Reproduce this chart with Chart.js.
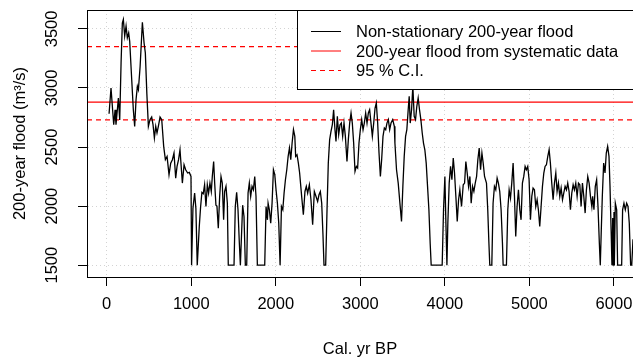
<!DOCTYPE html>
<html>
<head>
<meta charset="utf-8">
<script src="https://cdn.jsdelivr.net/npm/chart.js@4.4.1/dist/chart.umd.min.js"></script>
<style>
  html, body { margin: 0; padding: 0; background: #fff; }
  #wrap { width: 633px; height: 363px; }
</style>
</head>
<body>
<div id="wrap"><canvas id="floodChart" width="633" height="363"></canvas></div>
<script>
// years (cal. yr BP) and 200-year flood estimate (m3/s)
const years = [
  28, 51, 83, 99, 110, 126, 138, 154, 170, 185, 197, 213, 229, 244, 260, 272, 296, 315, 331, 347,
  363, 375, 395, 422, 442, 457, 475, 493, 512, 532, 548, 564, 580, 595, 611, 631, 651, 674, 694, 714,
  737, 757, 777, 796, 816, 832, 850, 867, 895, 915, 934, 958, 977, 997,
  1004, 1020, 1040, 1055, 1071, 1079, 1095, 1111, 1126, 1142, 1158, 1174, 1190, 1205, 1221, 1237,
  1249, 1265, 1277, 1292, 1304, 1320, 1336, 1352, 1367, 1383, 1395, 1411, 1427, 1438, 1506, 1521,
  1537, 1553, 1569, 1581, 1608, 1624, 1640, 1656, 1672, 1687, 1703, 1719, 1735, 1751, 1766, 1782,
  1869, 1885, 1901, 1909, 1924, 1940, 1956, 1972, 1988, 2003, 2019, 2035, 2051, 2067, 2083, 2098,
  2114, 2130, 2146, 2162, 2177, 2193, 2209, 2225,
  2235, 2251, 2267, 2282, 2306, 2326, 2345, 2361, 2377, 2397, 2416, 2436, 2456, 2476, 2495, 2511,
  2527, 2543, 2558, 2570, 2590, 2606, 2621, 2637, 2653, 2669, 2684, 2700, 2712, 2728, 2744, 2760,
  2775, 2791, 2807, 2823, 2842, 2858, 2874, 2890, 2905, 2921, 2937, 2953, 2968, 2984, 3000, 3016,
  3032, 3047, 3063, 3079, 3095, 3110, 3126, 3142, 3158, 3174, 3189, 3205, 3221, 3237, 3252, 3268,
  3284, 3300, 3315, 3331, 3347, 3363, 3383, 3402,
  3409, 3428, 3448, 3468, 3487, 3503, 3519, 3535, 3550, 3566, 3578, 3590, 3606, 3621, 3637, 3653,
  3668, 3684, 3700, 3716, 3732, 3747, 3763, 3779, 3795, 3811, 3826, 3838, 3968, 3984, 4000, 4012,
  4024, 4035, 4051, 4067, 4083, 4099, 4114, 4130, 4146, 4162, 4177, 4197, 4217, 4233, 4248, 4264,
  4280, 4296, 4311, 4327, 4343, 4359, 4375, 4390, 4406, 4422, 4438, 4453, 4469,
  4492, 4507, 4520, 4531, 4555, 4570, 4586, 4602, 4618, 4633, 4649, 4665, 4681, 4689, 4728, 4744,
  4760, 4776, 4791, 4807, 4823, 4838, 4854, 4870, 4886, 4901, 4917, 4933, 4949, 4964, 4980, 4996,
  5012, 5028, 5043, 5059, 5075, 5091, 5106, 5122, 5138, 5154, 5170, 5185, 5201, 5217, 5233, 5248,
  5264, 5280, 5296, 5312, 5327, 5343, 5359, 5375, 5391, 5406, 5422, 5438, 5453, 5469, 5485, 5501,
  5517, 5532, 5548, 5564, 5580, 5596, 5611, 5627, 5643, 5659, 5674, 5690, 5706, 5722, 5738,
  5748, 5763, 5779, 5795, 5811, 5827, 5838, 5850, 5862, 5878, 5894, 5909, 5925, 5941, 5953, 5968,
  5976, 5985, 5992, 6000, 6004, 6016, 6032, 6043, 6091, 6102, 6118, 6134, 6150, 6166, 6181, 6197,
  6210, 6225
];
const flood = [
  2782, 3000, 2689, 2816, 2690, 2816, 2915, 2730, 3212, 3550, 3580, 3440, 3523, 3424, 3466, 3395, 3070, 2816, 2675, 2900,
  3014, 2986, 3180, 3556, 3381, 3297, 2950, 2675, 2732, 2754, 2690, 2576, 2675, 2619, 2675, 2754, 2732, 2506, 2393, 2421,
  2266, 2364, 2393, 2449, 2237, 2336, 2393, 2477, 2195, 2350, 2308, 2280, 2285, 2251,
  1500, 1980, 2110, 1980, 1500, 1500, 1828, 1997, 2116, 2105, 2181, 1997, 2181, 2110, 2195, 2124,
  2251, 2378, 2195, 2008, 2000, 1813, 2082, 2251, 2195, 1884, 2124, 2167, 2025, 1500, 1500, 1997,
  2116, 1969, 1686, 1500, 2008, 1912, 1500, 1500, 2110, 2195, 2082, 2167, 2138, 2251, 2082, 1500,
  1500, 1997, 1884, 2025, 1969, 1856, 2025, 2308, 2266, 2138, 2025, 1856, 1500, 1997, 1969, 2110,
  2223, 2308, 2421, 2492, 2393, 2534, 2647, 2590,
  2421, 2435, 2364, 2280, 2082, 1927, 2124, 2167, 2110, 2181, 2054, 1842, 2124, 2082, 2040, 2096,
  2124, 2025, 1757, 1500, 1500, 1969, 2364, 2563, 2633, 2689, 2816, 2647, 2548, 2760, 2605, 2689,
  2703, 2590, 2703, 2590, 2379, 2563, 2703, 2788, 2703, 2534, 2294, 2336, 2322, 2534, 2647, 2732,
  2647, 2703, 2788, 2703, 2788, 2816, 2703, 2590, 2703, 2830, 2873, 2703, 2449, 2251, 2393, 2590,
  2661, 2647, 2703, 2732, 2647, 2703, 2732, 2675,
  2534, 2308, 2195, 2025, 1870, 2167, 2421, 2590, 2647, 2816, 2929, 2703, 2816, 3014, 2760, 2732,
  2845, 2915, 2816, 2732, 2619, 2534, 2477, 2364, 2167, 1969, 1686, 1500, 1500, 1969, 2251, 1856,
  1500, 1856, 2195, 2336, 2223, 2407, 2280, 2082, 1870, 2054, 2138, 1997, 2181, 2195, 2378, 2280,
  2167, 2251, 2025, 2167, 2124, 2195, 2251, 2393, 2492, 2308, 2449, 2364, 2251,
  2195, 1969, 1700, 1500, 1500, 2025, 2167, 2138, 2237, 2195, 2124, 1969, 1686, 1500, 1500, 1969,
  2138, 2068, 2195, 2364, 2082, 1743, 1997, 2138, 1969, 1884, 2195, 2251, 2336, 2308, 2336, 2223,
  1884, 2082, 2153, 2138, 1997, 2054, 1969, 1828, 1997, 2167, 2280, 2336, 2350, 2421, 2477, 2364,
  2195, 2054, 2195, 2280, 2124, 2195, 2082, 2153, 2054, 2110, 2167, 2138, 2195, 2124, 1969, 2110,
  2181, 2138, 2195, 2082, 2195, 2181, 1997, 2195, 2082, 1941, 2138, 2251, 2195, 2082, 1997,
  2082, 1969, 2167, 2223, 1997, 1686, 1500, 1800, 2082, 2364, 2280, 2449, 2506, 2421, 2167, 1743,
  1500, 1900, 1500, 1950, 1500, 2025, 1969, 1500, 1500, 1969, 2025, 1969, 2025, 1997, 1856, 1500,
  1500, 1720
];
const systematicQ200 = 2880;
const ciBounds = [2730, 3350];
const xTicks = [0, 1000, 2000, 3000, 4000, 5000, 6000];
const yTicks = [1500, 2000, 2500, 3000, 3500];
const xRange = [-233, 6225];
const yRange = [1400, 3660];

const legendItems = [
  { label: 'Non-stationary 200-year flood', color: '#000000', dash: [] },
  { label: '200-year flood from systematic data', color: '#ff0000', dash: [] },
  { label: '95 % C.I.', color: '#ff0000', dash: [5, 4] }
];

const FONT = '"Liberation Sans", Arial, Helvetica, sans-serif';
const FSIZE = 16.5;
Chart.defaults.font.family = FONT;
Chart.defaults.font.size = FSIZE;
Chart.defaults.color = '#000';

function hline(v) {
  return [{ x: xRange[0], y: v }, { x: xRange[1], y: v }];
}

// box around plot region, like R's box()
const boxPlugin = {
  id: 'plotBox',
  afterDatasetsDraw(chart) {
    const a = chart.chartArea, ctx = chart.ctx;
    ctx.save();
    ctx.strokeStyle = '#000';
    ctx.lineWidth = 1;
    ctx.strokeRect(Math.round(a.left) + 0.5, Math.round(a.top) + 0.5, a.right - a.left + 5, a.bottom - a.top);
    ctx.restore();
  }
};

// R style legend in the top right corner
const rLegend = {
  id: 'rLegend',
  afterDraw(chart) {
    const ctx = chart.ctx, a = chart.chartArea;
    const left = 297.5, top = Math.round(a.top) + 0.5, bottom = 89.5;
    ctx.save();
    ctx.fillStyle = '#fff';
    ctx.fillRect(left, top, 400, bottom - top);
    ctx.strokeStyle = '#000';
    ctx.lineWidth = 1;
    ctx.strokeRect(left, top, 400, bottom - top);
    ctx.font = FSIZE + 'px ' + FONT;
    ctx.textBaseline = 'middle';
    ctx.textAlign = 'left';
    legendItems.forEach((it, i) => {
      const y = 31.5 + i * 19.5;
      ctx.strokeStyle = it.color;
      ctx.setLineDash(it.dash);
      ctx.beginPath();
      ctx.moveTo(311, y);
      ctx.lineTo(341, y);
      ctx.stroke();
      ctx.setLineDash([]);
      ctx.fillStyle = '#000';
      ctx.fillText(it.label, 356, y + 1);
    });
    ctx.restore();
  }
};

const plainNum = v => String(v);

new Chart(document.getElementById('floodChart'), {
  type: 'line',
  data: {
    datasets: [
      {
        label: legendItems[0].label,
        data: years.map((yr, i) => ({ x: yr, y: flood[i] })),
        borderColor: '#000',
        borderWidth: 1.3,
        pointRadius: 0,
        tension: 0
      },
      {
        label: legendItems[1].label,
        data: hline(systematicQ200),
        borderColor: '#ff0000',
        borderWidth: 1.3,
        pointRadius: 0
      },
      {
        label: legendItems[2].label,
        data: hline(ciBounds[1]),
        borderColor: '#ff0000',
        borderWidth: 1.3,
        borderDash: [5, 4],
        pointRadius: 0
      },
      {
        label: legendItems[2].label,
        data: hline(ciBounds[0]),
        borderColor: '#ff0000',
        borderWidth: 1.3,
        borderDash: [5, 4],
        pointRadius: 0
      }
    ]
  },
  options: {
    responsive: false,
    animation: false,
    devicePixelRatio: 1,
    layout: { padding: { top: 10, right: 0, bottom: 0, left: 0 } },
    plugins: { legend: { display: false }, tooltip: { enabled: false } },
    scales: {
      x: {
        type: 'linear',
        min: xRange[0],
        max: xRange[1],
        afterBuildTicks: s => { s.ticks = xTicks.map(v => ({ value: v })); },
        afterFit: s => { s.height = 86; s.paddingLeft = 0; s.paddingRight = 0; },
        grid: { color: '#d3d3d3', lineWidth: 1, tickColor: '#000', tickLength: 9, tickWidth: 1 },
        border: { color: '#000', width: 1, dash: [1, 3] },
        ticks: { color: '#000', padding: 9, maxRotation: 0, autoSkip: false, callback: plainNum },
        title: { display: true, text: 'Cal. yr BP', color: '#000', padding: { top: 0, bottom: 4 } }
      },
      y: {
        type: 'linear',
        min: yRange[0],
        max: yRange[1],
        afterBuildTicks: s => { s.ticks = yTicks.map(v => ({ value: v })); },
        afterFit: s => { s.width = 87; s.paddingTop = 0; s.paddingBottom = 0; },
        grid: { color: '#d3d3d3', lineWidth: 1, tickColor: '#000', tickLength: 9, tickWidth: 1 },
        border: { color: '#000', width: 1, dash: [1, 3] },
        ticks: { color: '#000', padding: 7, minRotation: 90, maxRotation: 90, crossAlign: 'center', autoSkip: false, callback: plainNum },
        title: { display: true, text: '200-year flood (m\u00b3/s)', color: '#000', padding: { top: 11, bottom: 0 } }
      }
    }
  },
  plugins: [boxPlugin, rLegend]
});
</script>
</body>
</html>
